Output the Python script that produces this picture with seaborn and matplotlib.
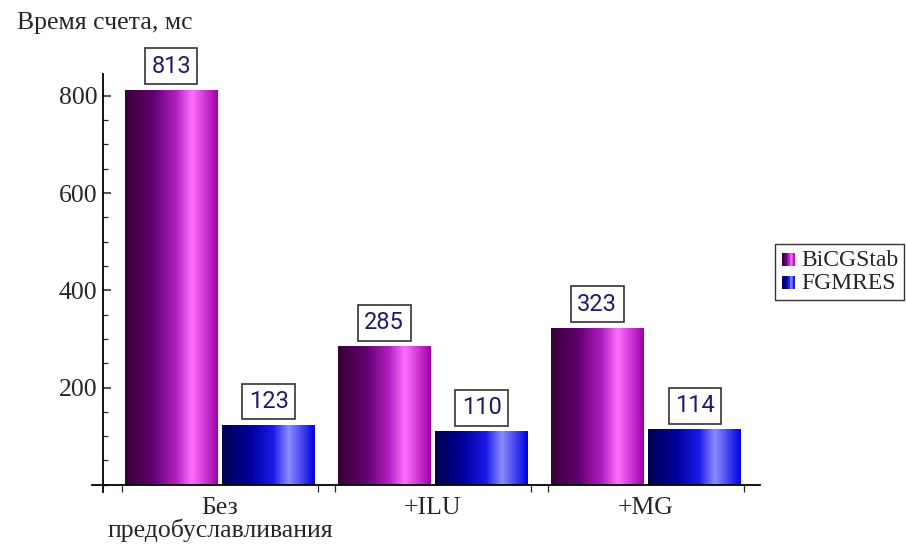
import numpy as np
import pandas as pd
import matplotlib
matplotlib.use("Agg")
import matplotlib.pyplot as plt
import seaborn as sns
from matplotlib.colors import LinearSegmentedColormap
from matplotlib.patches import Rectangle
from matplotlib.legend_handler import HandlerBase
from matplotlib.ticker import MultipleLocator

# data
categories = ["Без\nпредобуславливания", "+ILU", "+MG"]
methods = ["BiCGStab", "FGMRES"]
bicgstab_ms = [813, 285, 323]
fgmres_ms = [123, 110, 114]

df = pd.DataFrame({
    "category": categories * 2,
    "method": [methods[0]] * 3 + [methods[1]] * 3,
    "time": bicgstab_ms + fgmres_ms,
})

# horizontal "shiny" gradients, dark on the left, highlight near 70 %
grad_colors = {
    "BiCGStab": ["#360038", "#620070", "#b020c0", "#ff70ff", "#a000a8"],
    "FGMRES": ["#000050", "#00009c", "#1a1ae8", "#8c8cff", "#0000e0"],
}
grad_stops = [0.0, 0.3, 0.55, 0.72, 1.0]
cmaps = {m: LinearSegmentedColormap.from_list(m, list(zip(grad_stops, c)))
         for m, c in grad_colors.items()}

sns.set_style("white")
plt.rcParams["font.family"] = ["Liberation Serif", "DejaVu Serif"]

fig = plt.figure(figsize=(9.06, 5.44), dpi=100)
ax = fig.add_axes([92 / 906, 52 / 544, (760 - 92) / 906, (470 - 52) / 544])

sns.barplot(data=df, x="category", y="time", hue="method", order=categories,
            hue_order=methods, width=0.916, gap=0.05, ax=ax, legend=False,
            palette=["#9010a0", "#2020e0"], saturation=1)

grad = np.linspace(0, 1, 256).reshape(1, -1)
bars = ax.patches
for i, patch in enumerate(bars):
    method = methods[i // len(categories)]
    x0, y0 = patch.get_x(), patch.get_y()
    w, h = patch.get_width(), patch.get_height()
    im = ax.imshow(grad, cmap=cmaps[method], aspect="auto",
                   extent=[x0, x0 + w, y0, y0 + h], zorder=2)
    im.set_clip_path(patch)
    patch.set_facecolor("none")
    patch.set_edgecolor("none")
    ax.annotate(f"{int(h)}", (x0 + w / 2, h), xytext=(0, 12),
                textcoords="offset pixels", ha="center", va="bottom",
                fontsize=17, color="#1c1c6e", family=["Roboto", "DejaVu Sans"],
                bbox=dict(boxstyle="square,pad=0.27", fc="white",
                          ec="#333333", lw=1.2), zorder=5)

ax.set_xlim(-0.601, 2.535)
ax.set_ylim(-15, 845)

# axes crossing Mathematica style
for s in ["top", "right"]:
    ax.spines[s].set_visible(False)
ax.spines["left"].set_position(("data", -0.549))
ax.spines["bottom"].set_position(("data", 0))
ax.spines["left"].set_color("black")
ax.spines["bottom"].set_color("black")
ax.spines["left"].set_linewidth(1.3)
ax.spines["bottom"].set_linewidth(1.3)

ax.yaxis.set_minor_locator(MultipleLocator(50))
ax.set_yticks([200, 400, 600, 800])
ax.tick_params(axis="y", which="major", direction="in", length=6, width=1.1,
               labelsize=18.5, left=True, pad=4)
ax.tick_params(axis="y", which="minor", direction="in", length=3.5, width=0.9,
               left=True)

half = 0.916 / 2
edges = [c + d for c in range(len(categories)) for d in (-half, half)]
ax.set_xticks(range(len(categories)))
ax.set_xticklabels(categories, linespacing=0.95)
ax.set_xticks(edges, minor=True)
ax.tick_params(axis="x", which="major", length=0, labelsize=18.5, pad=9)
ax.tick_params(axis="x", which="minor", direction="out", length=5, width=0.9,
               bottom=True)
ax.set_xlabel("")
ax.set_ylabel("")

fig.text(17 / 906, 1 - 23 / 544, "Время счета, мс", fontsize=18.5,
         ha="left", va="center")


class GradientHandler(HandlerBase):
    def create_artists(self, legend, orig_handle, xdescent, ydescent,
                       width, height, fontsize, trans):
        cmap = cmaps[orig_handle]
        n = 8
        size = height * 0.8
        x_start = width - size
        arts = []
        for k in range(n):
            r = Rectangle((x_start - xdescent + k * size / n, -ydescent),
                          size / n, size, facecolor=cmap((k + 0.5) / n),
                          edgecolor="none", transform=trans)
            arts.append(r)
        return arts


leg = fig.legend(methods, methods,
                 handler_map={m: GradientHandler() for m in methods},
                 loc="upper left", bbox_to_anchor=(775 / 906, 1 - 244 / 544),
                 fontsize=17, frameon=True, fancybox=False,
                 edgecolor="black", handlelength=0.6, handletextpad=0.25,
                 borderpad=0.25, labelspacing=0.05, borderaxespad=0)
leg.get_frame().set_linewidth(1.0)

fig.savefig("out.png", dpi=100)
